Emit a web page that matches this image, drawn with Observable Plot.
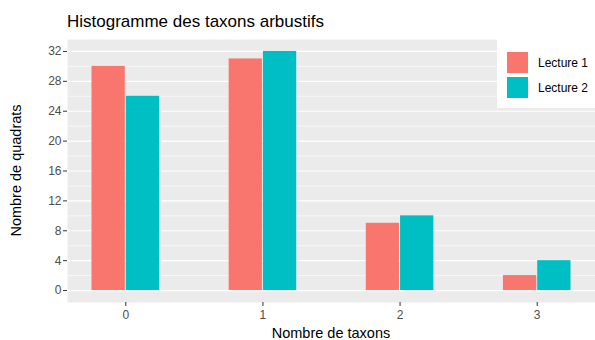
<!DOCTYPE html>
<html>
<head>
<meta charset="utf-8">
<script src="https://cdn.jsdelivr.net/npm/d3@7"></script>
<script src="https://cdn.jsdelivr.net/npm/@observablehq/plot@0.6"></script>
<style>
  html, body { margin: 0; padding: 0; background: white; }
  #wrap { position: relative; width: 595px; height: 340px; font-family: "Liberation Sans", Arial, sans-serif; }
  #title { position: absolute; left: 67px; top: 13px; font-size: 17px; line-height: 1; color: #000; white-space: nowrap; }
  #legend { position: absolute; left: 497px; top: 38px; width: 98px; height: 70px; background: white; }
  .key { position: absolute; left: 10px; width: 21px; height: 21px; }
  .lab { position: absolute; left: 41px; font-size: 12px; line-height: 1; color: #000; white-space: nowrap; }
</style>
</head>
<body>
<div id="wrap"><div id="chart"></div><div id="title"></div><div id="legend"></div></div>
<script>
const categories = [0, 1, 2, 3];
const series = ["Lecture 1", "Lecture 2"];
const lecture1 = [30, 31, 9, 2];
const lecture2 = [26, 32, 10, 4];
const colors = ["#F8766D", "#00BFC4"];
const yTicks = [0, 4, 8, 12, 16, 20, 24, 28, 32];
const yMinor = [2, 6, 10, 14, 18, 22, 26, 30];
const titleText = "Histogramme des taxons arbustifs";
const xLabel = "Nombre de taxons";
const yLabel = "Nombre de quadrats";

const barWidth = 0.25;
const data = [];
categories.forEach((c, i) => {
  data.push({cat: c, serie: series[0], value: lecture1[i], x1: c - barWidth, x2: c});
  data.push({cat: c, serie: series[1], value: lecture2[i], x1: c, x2: c + barWidth});
});

const chart = Plot.plot({
  width: 595,
  height: 340,
  marginLeft: 67,
  marginRight: 0,
  marginTop: 39,
  marginBottom: 38,
  style: {fontFamily: "Liberation Sans, Arial, sans-serif", background: "white"},
  x: {type: "linear", domain: [-0.425, 3.425]},
  y: {domain: [-1.6, 33.6]},
  color: {domain: series, range: colors},
  marks: [
    Plot.frame({fill: "#ebebeb", stroke: null}),
    Plot.ruleY(yMinor, {stroke: "white", strokeWidth: 0.6}),
    Plot.ruleY(yTicks, {stroke: "white", strokeWidth: 1.2}),
    Plot.rectY(data, {x1: "x1", x2: "x2", y1: 0, y2: "value", fill: "serie", insetLeft: 0.5, insetRight: 0.5}),
    Plot.axisY({ticks: yTicks, tickSize: 4, tickPadding: 2, stroke: "#333", fill: "#4d4d4d", fontSize: 12, label: null}),
    Plot.axisX({ticks: categories, tickFormat: d3.format("d"), tickSize: 4, tickPadding: 4, stroke: "#333", fill: "#4d4d4d", fontSize: 12, label: null})
  ]
});
document.getElementById("chart").appendChild(chart);

const svg = d3.select(chart);
svg.append("text")
  .attr("x", 67 + (595 - 67) / 2)
  .attr("y", 338)
  .attr("text-anchor", "middle")
  .attr("font-size", 14.5)
  .attr("fill", "#000")
  .text(xLabel);
svg.append("text")
  .attr("transform", `translate(21,${(39 + 302) / 2}) rotate(-90)`)
  .attr("text-anchor", "middle")
  .attr("font-size", 14.5)
  .attr("fill", "#000")
  .text(yLabel);

document.getElementById("title").textContent = titleText;
const legend = document.getElementById("legend");
series.forEach((s, i) => {
  const k = document.createElement("div");
  k.className = "key";
  k.style.top = (14 + i * 25) + "px";
  k.style.background = colors[i];
  legend.appendChild(k);
  const l = document.createElement("div");
  l.className = "lab";
  l.style.top = (19 + i * 25) + "px";
  l.textContent = s;
  legend.appendChild(l);
});
</script>
</body>
</html>
